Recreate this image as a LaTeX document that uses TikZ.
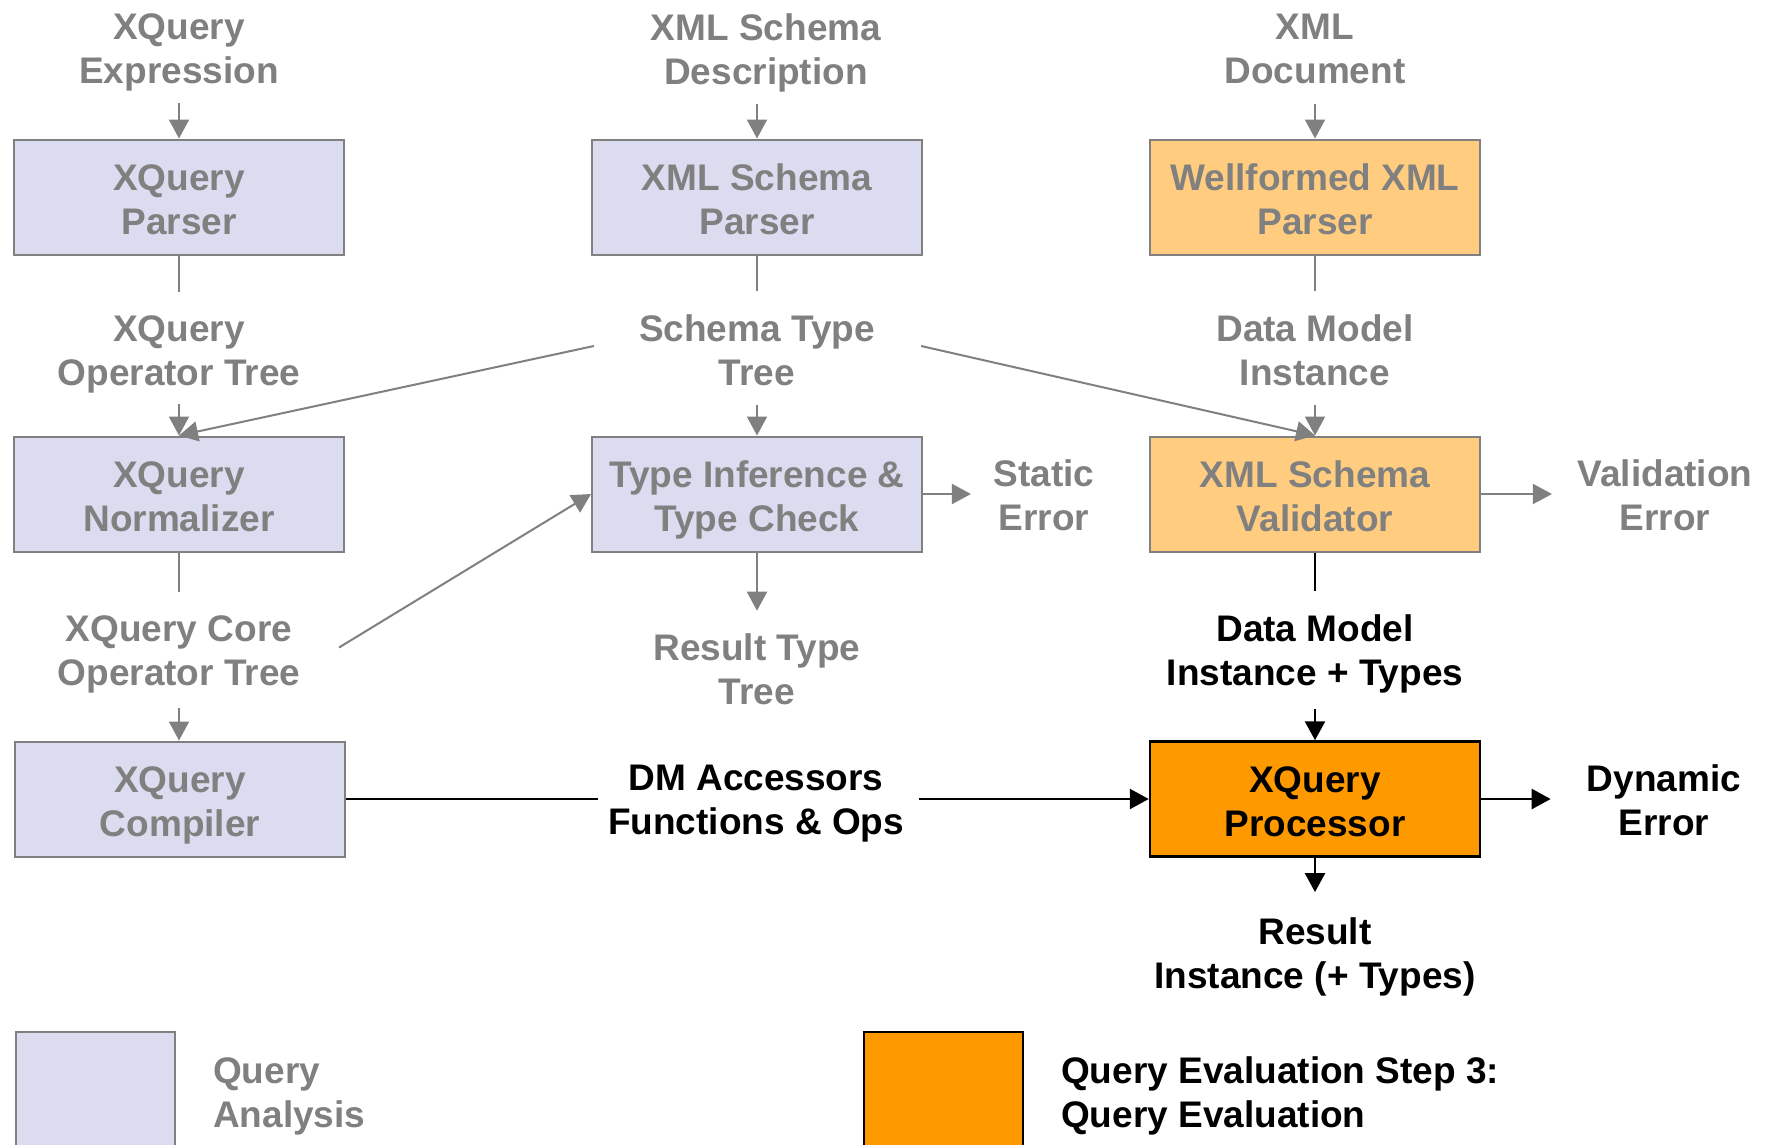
\documentclass[tikz,border=0pt]{standalone}
\usepackage{fontspec}
\setmainfont{Liberation Sans}
\usetikzlibrary{arrows.meta}

\definecolor{lbl}{HTML}{808080}
\definecolor{anafill}{HTML}{DCDCF0}
\definecolor{wellfill}{HTML}{FFCC80}
\definecolor{evalfill}{HTML}{FF9900}

\tikzset{
  txt/.style={font=\fontsize{37}{44}\selectfont\bfseries, align=center, inner sep=0pt},
  glabel/.style={txt, text=lbl},
  blabel/.style={txt, text=black},
  box/.style={txt, draw=lbl, line width=2pt, minimum width=330pt, minimum height=115pt,
    text=lbl, text height=75.5pt, text depth=0pt},
  anabox/.style={box, fill=anafill},
  wellbox/.style={box, fill=wellfill},
  evalbox/.style={box, fill=evalfill, draw=black, line width=2.5pt, text=black},
  gline/.style={draw=lbl, line width=2pt},
  garr/.style={gline, -{Triangle[width=20pt,length=19pt]}},
  bline/.style={draw=black, line width=2.5pt},
  barr/.style={bline, -{Triangle[width=20pt,length=19pt]}},
}

\begin{document}
\begin{tikzpicture}[x=1pt, y=-1pt]
\useasboundingbox (0,0) rectangle (1775,1144);
\clip (0,0) rectangle (1775,1144);
\fill[white] (0,0) rectangle (1775,1144);

% inputs
\node[glabel] (expr) at (179,52.5) {XQuery\\Expression};
\node[glabel] (xsd)  at (766,52.5) {XML Schema\\Description};
\node[glabel] (xdoc) at (1315,48.5) {XML\\Document};

% parsers
\node[anabox]  (qparse)  at (179,197) {XQuery\\Parser};
\node[anabox]  (xsparse) at (757,197) {XML Schema\\Parser};
\node[wellbox] (wfparse) at (1315,197) {Wellformed XML\\Parser};

% intermediate results
\node[glabel] (qop) at (179,354) {XQuery\\Operator Tree};
\node[glabel] (stt) at (757,350) {Schema Type\\Tree};
\node[glabel] (dmi) at (1315,350) {Data Model\\Instance};

% second stage
\node[anabox]  (qnorm) at (179,494) {XQuery\\Normalizer};
\node[anabox]  (tinf)  at (757,494) {Type Inference \&\\Type Check};
\node[wellbox] (xsval) at (1315,494) {XML Schema\\Validator};
\node[glabel] (serr) at (1044,495.5) {Static\\Error};
\node[glabel] (verr) at (1665,495.5) {Validation\\Error};

\node[glabel] (core) at (179,654) {XQuery Core\\Operator Tree};
\node[glabel] (rtt)  at (757,669.5) {Result Type\\Tree};
\node[blabel] (dmit) at (1315,654) {Data Model\\Instance + Types};

% evaluation
\node[anabox]  (qcomp) at (180,799) {XQuery\\Compiler};
\node[evalbox] (qproc) at (1315,799) {XQuery\\Processor};
\node[blabel] (dmacc) at (756,804) {DM Accessors\\Functions \& Ops};
\node[blabel] (derr)  at (1664,800.5) {Dynamic\\Error};
\node[blabel] (res)   at (1315,956.5) {Result\\Instance (+ Types)};

% legend
\node[anabox, minimum width=159pt, minimum height=228pt] (legA) at (95.5,1146) {};
\node[evalbox, line width=2pt, minimum width=159pt, minimum height=228pt] (legE) at (943.5,1146) {};
\node[glabel, anchor=west, align=left] (legAt) at (213,1096) {Query\\Analysis};
\node[blabel, anchor=west, align=left] (legEt) at (1061,1096) {Query Evaluation Step 3:\\Query Evaluation};

% connectors: inputs to parsers
\draw[garr, shorten <=12pt] (expr.south) -- (qparse.north);
\draw[garr, shorten <=12pt] (xsd.south -| xsparse.north) -- (xsparse.north);
\draw[garr, shorten <=20pt] (xdoc.south) -- (wfparse.north);

% parsers to their results
\draw[gline, shorten >=23.5pt] (qparse.south) -- (qop.north);
\draw[gline, shorten >=23.5pt] (xsparse.south) -- (stt.north);
\draw[gline, shorten >=23.5pt] (wfparse.south) -- (dmi.north);

% results into second stage
\draw[garr, shorten <=11.5pt] (qop.south) -- (qnorm.north);
\draw[garr, shorten <=19.5pt] (stt.south) -- (tinf.north);
\draw[garr, shorten <=19.5pt] (dmi.south) -- (xsval.north);
\draw[garr] ([xshift=-45pt,yshift=4pt]stt.west) -- (qnorm.north);
\draw[garr] ([xshift=46pt,yshift=4pt]stt.east) -- (xsval.north);

% second stage outputs
\draw[gline, shorten >=23.5pt] (qnorm.south) -- (core.north);
\draw[garr, shorten <=15.5pt] (core.south) -- (core.south |- qcomp.north);
\draw[garr] ([xshift=38.5pt,yshift=6.5pt]core.east) -- (tinf.west);
\draw[garr, shorten >=23pt] (tinf.south) -- (rtt.north);
\draw[garr, shorten >=22.5pt] (tinf.east) -- (tinf.east -| serr.west);
\draw[garr, shorten >=25.5pt] (xsval.east) -- (xsval.east -| verr.west);
\draw[bline, shorten >=23.5pt] (xsval.south) -- (dmit.north);
\draw[barr, shorten <=15.5pt] (dmit.south) -- (qproc.north);

% evaluation
\draw[bline, shorten >=10pt] (qcomp.east) -- (qcomp.east -| dmacc.west);
\draw[barr, shorten <=15pt] (dmacc.east |- qproc.west) -- (qproc.west);
\draw[barr, shorten >=36pt] (qproc.east) -- (qproc.east -| derr.west);
\draw[barr, shorten >=25pt] (qproc.south) -- (res.north);
\end{tikzpicture}
\end{document}
